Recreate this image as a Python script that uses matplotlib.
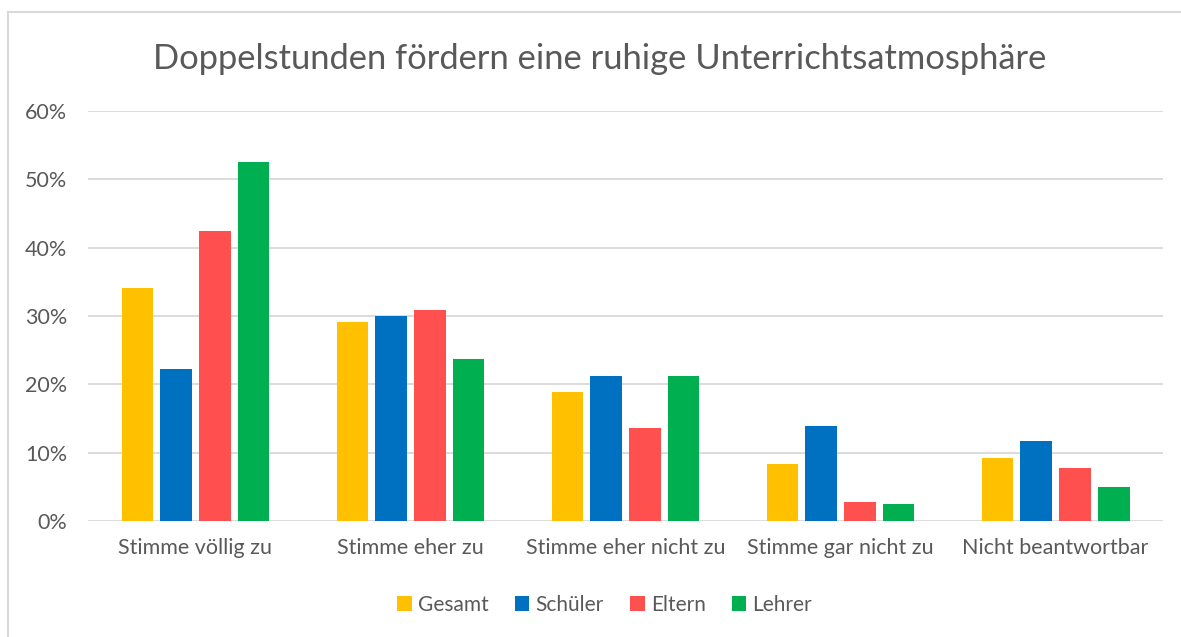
import matplotlib.pyplot as plt
import numpy as np
from matplotlib.lines import Line2D
from matplotlib.ticker import PercentFormatter

categories = ["Stimme völlig zu", "Stimme eher zu", "Stimme eher nicht zu",
              "Stimme gar nicht zu", "Nicht beantwortbar"]
series_names = ["Gesamt", "Schüler", "Eltern", "Lehrer"]
gesamt = [0.341, 0.291, 0.189, 0.084, 0.093]
schueler = [0.223, 0.300, 0.213, 0.140, 0.118]
eltern = [0.424, 0.309, 0.137, 0.028, 0.078]
lehrer = [0.525, 0.237, 0.212, 0.025, 0.050]
colors = ["#FFC000", "#0070C0", "#FF5050", "#00B050"]

plt.rcParams["font.family"] = ["Lato", "DejaVu Sans"]
text_color = "#595959"

fig = plt.figure(figsize=(11.81, 6.37), dpi=100)
ax = fig.add_axes([0.0745, 0.1816, 0.9103, 0.6446])

x = np.arange(len(categories))
pitch = 0.181
width = 0.145
for i, (name, vals) in enumerate(zip(series_names, [gesamt, schueler, eltern, lehrer])):
    ax.bar(x + (i - 1.5) * pitch, vals, width, color=colors[i], label=name, zorder=3)

ax.set_xlim(-0.5, len(categories) - 0.5)
ax.set_ylim(0, 0.6)
ax.set_yticks(np.arange(0, 0.61, 0.1))
ax.yaxis.set_major_formatter(PercentFormatter(1.0, decimals=0))
ax.set_xticks(x)
ax.set_xticklabels(categories)
ax.tick_params(axis="both", length=0, labelsize=15.5, colors=text_color)
ax.tick_params(axis="x", pad=12)
ax.tick_params(axis="y", pad=15)
ax.grid(axis="y", color="#D9D9D9", linewidth=1.3, zorder=0)
for s in ax.spines.values():
    s.set_visible(False)

fig.text(0.508, 0.908, "Doppelstunden fördern eine ruhige Unterrichtsatmosphäre",
         ha="center", va="center", fontsize=24.8, color=text_color)

leg = fig.legend(loc="center", bbox_to_anchor=(0.512, 0.051), ncol=4, frameon=False,
                 fontsize=15, handlelength=0.7, handleheight=0.7, handletextpad=0.3,
                 columnspacing=1.25)
for t in leg.get_texts():
    t.set_color(text_color)

# chart border (only top and left edges visible)
fig.lines.append(Line2D([8 / 1181, 8 / 1181], [0, 1 - 12 / 637], transform=fig.transFigure,
                        color="#D9D9D9", linewidth=1.5))
fig.lines.append(Line2D([8 / 1181, 1], [1 - 12 / 637, 1 - 12 / 637], transform=fig.transFigure,
                        color="#D9D9D9", linewidth=1.5))

fig.savefig("out.png", dpi=100)
